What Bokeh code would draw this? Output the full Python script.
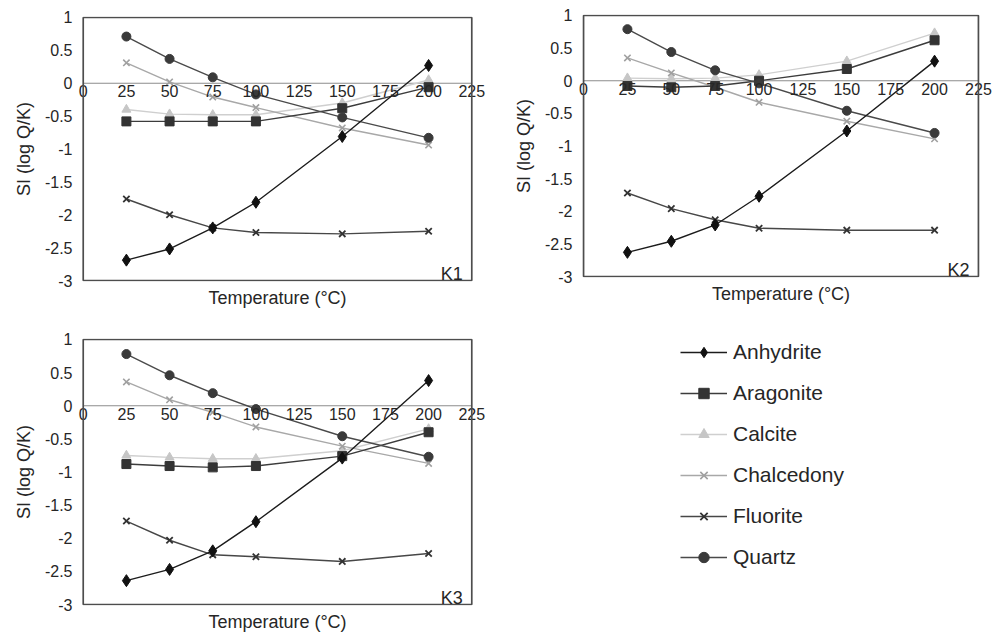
from bokeh.plotting import figure
from bokeh.layouts import row, column
from bokeh.core.properties import value
from bokeh.models import (Range1d, FixedTicker, CustomJSTickFormatter, Label, LabelSet,
                          ColumnDataSource, BoxAnnotation, Legend, LegendItem)
from bokeh.embed import file_html
from bokeh.resources import INLINE

# ---------------- data ----------------
TEMPS = [25, 50, 75, 100, 150, 200]
X_MIN, X_MAX = 0, 225
Y_MIN, Y_MAX = -3, 1
X_TICKS = [0, 25, 50, 75, 100, 125, 150, 175, 200, 225]
X_TICK_LABELS = ["0", "25", "50", "75", "100", "125", "150", "175", "200", "225"]
Y_TICKS = [-3, -2.5, -2, -1.5, -1, -0.5, 0, 0.5, 1]
MINERALS = ["Anhydrite", "Aragonite", "Calcite", "Chalcedony", "Fluorite", "Quartz"]
PANELS = ["K1", "K2", "K3"]

K1_ANHYDRITE = [-2.69, -2.52, -2.20, -1.81, -0.81, 0.27]
K1_ARAGONITE = [-0.58, -0.58, -0.58, -0.58, -0.38, -0.06]
K1_CALCITE = [-0.40, -0.47, -0.48, -0.48, -0.30, 0.05]
K1_CHALCEDONY = [0.31, 0.02, -0.21, -0.37, -0.68, -0.94]
K1_FLUORITE = [-1.76, -2.00, -2.20, -2.27, -2.29, -2.25]
K1_QUARTZ = [0.71, 0.37, 0.09, -0.17, -0.52, -0.83]

K2_ANHYDRITE = [-2.63, -2.46, -2.21, -1.77, -0.77, 0.30]
K2_ARAGONITE = [-0.08, -0.10, -0.08, 0.00, 0.18, 0.62]
K2_CALCITE = [0.04, 0.03, 0.04, 0.09, 0.30, 0.73]
K2_CHALCEDONY = [0.35, 0.12, -0.10, -0.33, -0.62, -0.89]
K2_FLUORITE = [-1.72, -1.96, -2.13, -2.26, -2.29, -2.29]
K2_QUARTZ = [0.79, 0.44, 0.16, -0.04, -0.46, -0.80]

K3_ANHYDRITE = [-2.64, -2.47, -2.19, -1.75, -0.79, 0.38]
K3_ARAGONITE = [-0.88, -0.91, -0.93, -0.91, -0.76, -0.40]
K3_CALCITE = [-0.75, -0.78, -0.80, -0.80, -0.68, -0.35]
K3_CHALCEDONY = [0.36, 0.09, -0.10, -0.32, -0.61, -0.87]
K3_FLUORITE = [-1.74, -2.03, -2.25, -2.28, -2.35, -2.23]
K3_QUARTZ = [0.78, 0.46, 0.19, -0.05, -0.46, -0.77]

SERIES = {
    "K1": [K1_ANHYDRITE, K1_ARAGONITE, K1_CALCITE, K1_CHALCEDONY, K1_FLUORITE, K1_QUARTZ],
    "K2": [K2_ANHYDRITE, K2_ARAGONITE, K2_CALCITE, K2_CHALCEDONY, K2_FLUORITE, K2_QUARTZ],
    "K3": [K3_ANHYDRITE, K3_ARAGONITE, K3_CALCITE, K3_CHALCEDONY, K3_FLUORITE, K3_QUARTZ],
}

# ---------------- styles ----------------
FONT = "Liberation Sans"
TXT = "#262626"
STYLE = {
    "Anhydrite": dict(line="#1c1c1c", marker="diamond", fill="#111111", size=12, mlw=1),
    "Aragonite": dict(line="#3c3c3c", marker="square", fill="#333333", size=9, mlw=1),
    "Calcite": dict(line="#cfcfcf", marker="triangle", fill="#c6c6c6", size=9, mlw=1),
    "Chalcedony": dict(line="#a8a8a8", marker="x", fill="#a0a0a0", size=9, mlw=1.6),
    "Fluorite": dict(line="#474747", marker="x", fill="#333333", size=9, mlw=1.8),
    "Quartz": dict(line="#4a4a4a", marker="circle", fill="#3a3a3a", size=9, mlw=1),
}
DRAW_ORDER = ["Calcite", "Chalcedony", "Aragonite", "Fluorite", "Quartz", "Anhydrite"]

# frame extends a little beyond the drawn box so edge tick labels are not clipped
PAD_X = 12      # data units (~21 px)
PAD_Y = 0.015   # data units (~1 px)
GEOM = {
    "K1": dict(width=500, height=310, left=58, right=7, top=16, bottom=29),
    "K2": dict(width=504, height=310, left=62, right=5, top=14, bottom=33),
    "K3": dict(width=500, height=324, left=62, right=8, top=28, bottom=29),
}


def add_series(p, name, xs, ys, visible=True):
    st = STYLE[name]
    lr = p.line(xs, ys, line_color=st["line"], line_width=1.4)
    sr = p.scatter(xs, ys, marker=st["marker"], size=st["size"],
                   fill_color=st["fill"], line_color=st["fill"], line_width=st["mlw"])
    lr.visible = visible
    sr.visible = visible
    return lr, sr


def make_panel(key):
    g = GEOM[key]
    p = figure(width=g["width"], height=g["height"],
               x_range=Range1d(X_MIN - PAD_X, X_MAX + PAD_X),
               y_range=Range1d(Y_MIN - PAD_Y, Y_MAX + PAD_Y),
               toolbar_location=None, output_backend="svg",
               min_border_left=g["left"], min_border_right=g["right"],
               min_border_top=g["top"], min_border_bottom=g["bottom"])
    p.outline_line_color = None
    p.xgrid.visible = False
    p.ygrid.visible = False

    ya = p.yaxis[0]
    ya.ticker = FixedTicker(ticks=Y_TICKS)
    ya.formatter = CustomJSTickFormatter(code="return String(tick)")
    ya.axis_line_color = None
    ya.major_tick_line_color = None
    ya.minor_tick_line_color = None
    ya.major_tick_out = 0
    ya.major_tick_in = 0
    ya.major_label_standoff = -10
    ya.major_label_text_font = FONT
    ya.major_label_text_font_size = "16px"
    ya.major_label_text_color = TXT
    ya.axis_label = "SI (log Q/K)"
    ya.axis_label_text_font = FONT
    ya.axis_label_text_font_size = "18px"
    ya.axis_label_text_font_style = "normal"
    ya.axis_label_text_color = TXT
    ya.axis_label_standoff = 8

    xa = p.xaxis[0]
    xa.ticker = FixedTicker(ticks=[])
    xa.axis_line_color = None
    xa.major_tick_line_color = None
    xa.minor_tick_line_color = None
    xa.axis_label = "Temperature (°C)"
    xa.axis_label_text_font = FONT
    xa.axis_label_text_font_size = "18px"
    xa.axis_label_text_font_style = "normal"
    xa.axis_label_text_color = TXT
    xa.axis_label_standoff = 6

    # zero reference line across the box
    p.segment(x0=[X_MIN], y0=[0], x1=[X_MAX], y1=[0], line_color="#8c8c8c",
              line_width=1.2, level="underlay")

    # x tick labels sitting just under the y = 0 line
    src = ColumnDataSource(dict(x=X_TICKS, y=[0] * len(X_TICKS), text=X_TICK_LABELS))
    p.add_layout(LabelSet(x="x", y="y", text="text", source=src, text_align="center",
                          text_baseline="top", y_offset=-2, text_font=value(FONT),
                          text_font_size=value("16px"), text_color=value(TXT)))

    vals = dict(zip(MINERALS, SERIES[key]))
    for name in DRAW_ORDER:
        add_series(p, name, TEMPS, vals[name])

    # plot-area box
    p.add_layout(BoxAnnotation(left=X_MIN, right=X_MAX, bottom=Y_MIN, top=Y_MAX,
                               fill_alpha=0, line_color="#4d4d4d", line_width=1.7,
                               line_alpha=1))

    p.add_layout(Label(x=X_MAX, y=Y_MIN, x_offset=-9, y_offset=7, text=key,
                       text_align="right", text_baseline="alphabetic", text_font=FONT,
                       text_font_size="18px", text_color=TXT))
    return p


p1 = make_panel("K1")
p2 = make_panel("K2")
p3 = make_panel("K3")

# ---------------- legend panel ----------------
leg = figure(width=504, height=324, x_range=Range1d(X_MIN, X_MAX),
             y_range=Range1d(Y_MIN, Y_MAX),
             toolbar_location=None, output_backend="svg", min_border=0,
             x_axis_location=None, y_axis_location=None)
leg.outline_line_color = None
for gr in leg.grid:
    gr.visible = False

items = []
for name, vals in zip(MINERALS, SERIES["K1"]):
    lr, sr = add_series(leg, name, TEMPS, vals, visible=False)
    items.append(LegendItem(label=name, renderers=[lr, sr]))

legend = Legend(items=items, location=(118, 64), click_policy="none",
                glyph_width=47, glyph_height=26, label_height=26, spacing=15,
                label_standoff=6, padding=0, margin=0,
                label_text_font=FONT, label_text_font_size="21px",
                label_text_color=TXT, border_line_color=None,
                background_fill_alpha=0)
leg.add_layout(legend)

layout = row(column(p1, p3), column(p2, leg))

open("out.html", "w").write(file_html(layout, INLINE))
